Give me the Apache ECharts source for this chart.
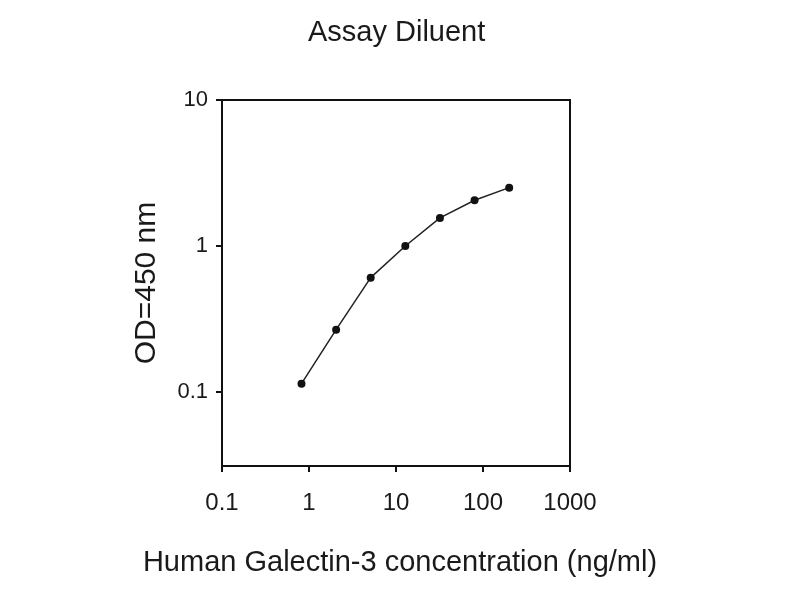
<!DOCTYPE html>
<html>
<head>
<meta charset="utf-8">
<script src="https://cdn.jsdelivr.net/npm/echarts@6/dist/echarts.min.js"></script>
<style>
html,body{margin:0;padding:0;background:#fff;}
#chart{width:800px;height:600px;}
</style>
</head>
<body>
<div id="chart"></div>
<script>
// Data
const concentrations = [0.82, 2.05, 5.12, 12.8, 32, 80, 200];   // ng/ml
const odValues = [0.114, 0.267, 0.607, 1.0, 1.556, 2.056, 2.51];  // OD 450 nm
const xTickValues = [0.1, 1, 10, 100, 1000];
const xTickLabels = ['0.1', '1', '10', '100', '1000'];
const yTickValues = [0.1, 1, 10];
const yTickLabels = ['0.1', '1', '10'];

function labelFor(values, labels) {
  return function (v) {
    for (let i = 0; i < values.length; i++) {
      if (Math.abs(Math.log10(v) - Math.log10(values[i])) < 1e-6) return labels[i];
    }
    return '';
  };
}

const FONT = '"Liberation Sans", Arial, sans-serif';
const chart = echarts.init(document.getElementById('chart'));
chart.setOption({
  animation: false,
  backgroundColor: '#fff',
  title: {
    text: 'Assay Diluent',
    left: 303,
    top: 13,
    textStyle: { fontFamily: FONT, fontSize: 29, fontWeight: 'normal', color: '#1a1a1a' }
  },
  grid: {
    left: 222, top: 100, right: 230, bottom: 134,
    show: true, borderColor: '#111', borderWidth: 2, backgroundColor: 'transparent'
  },
  xAxis: {
    type: 'log',
    logBase: 10,
    min: 0.1,
    max: 1000,
    name: 'Human Galectin-3 concentration (ng/ml)',
    nameLocation: 'middle',
    nameGap: 82,
    nameTextStyle: { fontFamily: FONT, fontSize: 29, color: '#1a1a1a', padding: [0, 0, 0, 8] },
    axisLine: { lineStyle: { color: '#111', width: 2 } },
    axisTick: { length: 6, lineStyle: { color: '#111', width: 2 } },
    axisLabel: { margin: 25, fontFamily: FONT, fontSize: 24, color: '#1a1a1a',
                 formatter: labelFor(xTickValues, xTickLabels) },
    splitLine: { show: false },
    minorTick: { show: false }
  },
  yAxis: {
    type: 'log',
    logBase: 10,
    min: 0.0311,
    max: 10,
    name: 'OD=450 nm',
    nameLocation: 'middle',
    nameGap: 60,
    nameTextStyle: { fontFamily: FONT, fontSize: 30, color: '#1a1a1a' },
    axisLine: { lineStyle: { color: '#111', width: 2 } },
    axisTick: { length: 6, lineStyle: { color: '#111', width: 2 } },
    axisLabel: { margin: 14, fontFamily: FONT, fontSize: 22, color: '#1a1a1a',
                 showMinLabel: false,
                 formatter: labelFor(yTickValues, yTickLabels) },
    splitLine: { show: false },
    minorTick: { show: false }
  },
  series: [{
    type: 'line',
    data: concentrations.map((c, i) => [c, odValues[i]]),
    symbol: 'circle',
    symbolSize: 8,
    itemStyle: { color: '#111' },
    lineStyle: { color: '#222', width: 1.5 }
  }]
});
</script>
</body>
</html>
